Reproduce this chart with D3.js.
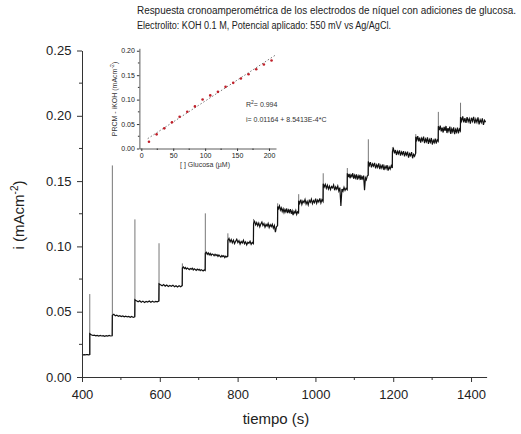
<!DOCTYPE html>
<html>
<head>
<meta charset="utf-8">
<script src="https://cdn.jsdelivr.net/npm/d3@7"></script>
<style>
  body { margin: 0; background: #fff; }
  svg { font-family: "Liberation Sans", Arial, sans-serif; }
  .axis path, .axis line { stroke: #333; }
  .axis text { fill: #222; }
</style>
</head>
<body>
<div id="content"></div>
<script>
// datos del cronoamperograma
var baseline = [0.0172, 0.0170, 0.0171, 0.0170, 0.0172, 0.0171, 0.0170, 0.0172];
var stepTimes = [420, 478, 536, 598, 658, 717, 775, 841, 903, 957, 1020, 1082, 1136, 1198, 1258, 1316, 1373];
var endTime = 1438;
var spikes = [0.0635, 0.162, 0.1207, 0.1024, 0.0870, 0.1253, 0.1100, 0.1210, 0.1330, 0.1400, 0.1560, 0.1600, 0.1820, 0.1760, 0.1860, 0.2030, 0.2100];
var plateaus = [
  [0.0332,0.0324,0.0318,0.0321,0.0315,0.0319,0.0313,0.0318,0.0314,0.0317,0.0312,0.0316,0.0313,0.0318,0.0314,0.0316],
  [0.0472,0.0480,0.0468,0.0474,0.0465,0.0470,0.0463,0.0468,0.0461,0.0466,0.0460,0.0464,0.0457,0.0463,0.0456,0.0461],
  [0.0592,0.0583,0.0576,0.0584,0.0573,0.0581,0.0571,0.0579,0.0574,0.0582,0.0572,0.0580,0.0573,0.0579,0.0575,0.0581],
  [0.0714,0.0706,0.0699,0.0708,0.0696,0.0704,0.0693,0.0701,0.0695,0.0703,0.0691,0.0699,0.0689,0.0698,0.0691,0.0700],
  [0.0835,0.0842,0.0830,0.0838,0.0826,0.0834,0.0829,0.0822,0.0831,0.0825,0.0833,0.0820,0.0828,0.0823,0.0817,0.0826,0.0819,0.0824,0.0815,0.0822,0.0818,0.0812,0.0820,0.0816],
  [0.0948,0.0955,0.0940,0.0950,0.0936,0.0946,0.0932,0.0942,0.0938,0.0928,0.0940,0.0930,0.0937,0.0924,0.0934,0.0926,0.0918,0.0930,0.0921,0.0928,0.0915,0.0926,0.0919,0.0924],
  [0.1045,0.1060,0.1035,0.1052,0.1028,0.1048,0.1022,0.1040,0.1055,0.1030,0.1044,0.1018,0.1038,0.1026,0.1047,0.1020,0.1035,0.1012,0.1032,0.1024,0.1040,0.1016,0.1030,0.1022],
  [0.1175,0.1192,0.1165,0.1182,0.1158,0.1178,0.1150,0.1172,0.1186,0.1160,0.1175,0.1148,0.1168,0.1155,0.1176,0.1145,0.1166,0.1152,0.1170,0.1140,0.1160,0.1110,0.1150,0.1158],
  [0.1305,0.1290,0.1310,0.1278,0.1295,0.1268,0.1288,0.1260,0.1282,0.1265,0.1290,0.1255,0.1278,0.1262,0.1285,0.1250,0.1272,0.1240,0.1268,0.1255,0.1275,0.1245,0.1265,0.1258],
  [0.1350,0.1330,0.1358,0.1322,0.1348,0.1335,0.1360,0.1325,0.1345,0.1318,0.1352,0.1338,0.1362,0.1328,0.1350,0.1335,0.1365,0.1330,0.1355,0.1340,0.1368,0.1332,0.1358,0.1345],
  [0.1480,0.1455,0.1475,0.1445,0.1468,0.1440,0.1462,0.1435,0.1458,0.1448,0.1470,0.1430,0.1455,0.1438,0.1462,0.1425,0.1450,0.1310,0.1440,0.1422,0.1452,0.1428,0.1445,0.1435],
  [0.1560,0.1530,0.1555,0.1522,0.1548,0.1535,0.1560,0.1518,0.1545,0.1525,0.1552,0.1512,0.1540,0.1520,0.1548,0.1510,0.1535,0.1518,0.1542,0.1430,0.1525,0.1510,0.1538,0.1545],
  [0.1650,0.1620,0.1645,0.1605,0.1632,0.1615,0.1640,0.1598,0.1625,0.1605,0.1635,0.1592,0.1620,0.1600,0.1628,0.1585,0.1615,0.1595,0.1622,0.1580,0.1610,0.1592,0.1618,0.1600],
  [0.1725,0.1748,0.1712,0.1738,0.1700,0.1728,0.1710,0.1735,0.1695,0.1722,0.1705,0.1730,0.1690,0.1718,0.1700,0.1726,0.1680,0.1710,0.1695,0.1722,0.1675,0.1705,0.1690,0.1712],
  [0.1840,0.1815,0.1845,0.1805,0.1832,0.1795,0.1828,0.1810,0.1840,0.1790,0.1822,0.1802,0.1835,0.1785,0.1818,0.1798,0.1830,0.1780,0.1812,0.1795,0.1825,0.1788,0.1815,0.1805],
  [0.1920,0.1890,0.1925,0.1880,0.1910,0.1872,0.1915,0.1885,0.1922,0.1868,0.1905,0.1882,0.1918,0.1862,0.1900,0.1878,0.1912,0.1860,0.1895,0.1875,0.1910,0.1865,0.1898,0.1885],
  [0.1990,0.1960,0.1995,0.1950,0.1982,0.1945,0.1990,0.1955,0.1978,0.1940,0.1985,0.1958,0.1992,0.1942,0.1975,0.1950,0.1988,0.1935,0.1970,0.1948,0.1980,0.1930,0.1965,0.1952]
];

// datos de la curva de calibración
var glucosa = [12, 24, 36, 48, 60, 72, 84, 96, 108, 120, 132, 144, 156, 168, 180, 192, 204];
var deltaI = [0.0139, 0.0290, 0.0412, 0.0535, 0.0649, 0.0751, 0.0861, 0.1004, 0.1086, 0.1159, 0.1261, 0.1343, 0.1433, 0.1520, 0.1622, 0.1718, 0.1800];
var fitIntercept = 0.01164;
var fitSlope = 8.5413E-4;

var xTicks = [400, 600, 800, 1000, 1200, 1400];
var yTicks = [0.00, 0.05, 0.10, 0.15, 0.20, 0.25];

// dimensiones
var width = 521;
var height = 434;

var svg = d3.select("#content")
  .append("svg")
  .attr("width", width)
  .attr("height", height);

// titulo
var title = svg.append("g").attr("font-size", "10px").attr("fill", "#222");
title.append("text").attr("x", 137).attr("y", 14)
  .attr("textLength", 379).attr("lengthAdjust", "spacingAndGlyphs")
  .text("Respuesta cronoamperométrica de los electrodos de níquel con adiciones de glucosa.");
title.append("text").attr("x", 137).attr("y", 29)
  .attr("textLength", 254).attr("lengthAdjust", "spacingAndGlyphs")
  .text("Electrolito: KOH 0.1 M, Potencial aplicado: 550 mV vs Ag/AgCl.");

var x = d3.scaleLinear().domain([400, 1440]).range([82, 486.6]);
var y = d3.scaleLinear().domain([0, 0.25]).range([377, 50.5]);

// construir la traza
var trace = [];
var t0 = 400;
baseline.forEach(function(v, i) {
  trace.push([t0 + i * (stepTimes[0] - t0) / (baseline.length - 1), v]);
});
var spikeLines = [];
stepTimes.forEach(function(ts, k) {
  var te = k + 1 < stepTimes.length ? stepTimes[k + 1] : endTime;
  var p = plateaus[k];
  var prev = trace[trace.length - 1][1];
  spikeLines.push({t: ts, lo: Math.min(prev, p[0]), hi: spikes[k]});
  p.forEach(function(v, i) {
    trace.push([ts + i * (te - ts - 0.5) / (p.length - 1), v]);
  });
});

svg.append("g").selectAll("line")
  .data(spikeLines)
  .enter().append("line")
  .attr("x1", function(d) { return x(d.t); }).attr("x2", function(d) { return x(d.t); })
  .attr("y1", function(d) { return y(d.lo); }).attr("y2", function(d) { return y(d.hi); })
  .attr("stroke", "#777").attr("stroke-width", 1);

svg.append("path")
  .datum(trace)
  .attr("fill", "none")
  .attr("stroke", "#111")
  .attr("stroke-width", 1.2)
  .attr("d", d3.line().x(function(d) { return x(d[0]); }).y(function(d) { return y(d[1]); }));

// ejes principales
var xAxis = svg.append("g").attr("class", "axis")
  .attr("transform", "translate(0," + y(0) + ")")
  .call(d3.axisBottom(x).tickValues(xTicks).tickSize(5).tickSizeOuter(0).tickFormat(d3.format("d")));
xAxis.selectAll("text").attr("font-size", "13px").attr("dy", "1.05em");
xAxis.selectAll(".minor").data([500, 700, 900, 1100, 1300]).enter()
  .append("line").attr("class", "minor")
  .attr("x1", function(d) { return x(d); }).attr("x2", function(d) { return x(d); })
  .attr("y1", 0).attr("y2", 3).attr("stroke", "#333");

var yAxis = svg.append("g").attr("class", "axis")
  .attr("transform", "translate(" + x(400) + ",0)")
  .call(d3.axisLeft(y).tickValues(yTicks).tickSize(5).tickSizeOuter(0).tickFormat(d3.format(".2f")));
yAxis.selectAll("text").attr("font-size", "13px").attr("dx", "-0.2em");
yAxis.selectAll(".minor").data([0.025, 0.075, 0.125, 0.175, 0.225]).enter()
  .append("line").attr("class", "minor")
  .attr("y1", function(d) { return y(d); }).attr("y2", function(d) { return y(d); })
  .attr("x1", 0).attr("x2", -3).attr("stroke", "#333");
svg.selectAll(".axis .domain").attr("stroke-width", 1);

svg.append("text")
  .attr("x", 276).attr("y", 424)
  .attr("text-anchor", "middle").attr("font-size", "15px").attr("fill", "#222")
  .text("tiempo (s)");

var yl = svg.append("text")
  .attr("transform", "translate(24,215) rotate(-90)")
  .attr("text-anchor", "middle").attr("font-size", "15px").attr("fill", "#222");
yl.append("tspan").text("i (mAcm");
yl.append("tspan").attr("font-size", "10px").attr("dy", -6).text("-2");
yl.append("tspan").attr("dy", 6).text(")");

// inserto: curva de calibración
var xi = d3.scaleLinear().domain([-3, 211]).range([139.4, 276]);
var yi = d3.scaleLinear().domain([0, 0.205]).range([148.5, 48.3]);

var inset = svg.append("g");

inset.append("line")
  .attr("x1", xi(10)).attr("x2", xi(210))
  .attr("y1", yi(fitIntercept + fitSlope * 10)).attr("y2", yi(fitIntercept + fitSlope * 210))
  .attr("stroke", "#555").attr("stroke-width", 0.8).attr("stroke-dasharray", "1.5,2");

inset.selectAll("circle")
  .data(glucosa)
  .enter().append("circle")
  .attr("cx", function(d) { return xi(d); })
  .attr("cy", function(d, i) { return yi(deltaI[i]); })
  .attr("r", 1.3)
  .attr("fill", "#c0202a");

var xiAxis = inset.append("g").attr("class", "axis")
  .attr("transform", "translate(0," + yi(0) + ")")
  .call(d3.axisBottom(xi).tickValues([0, 50, 100, 150, 200]).tickSize(2.5).tickSizeOuter(0).tickPadding(2));
xiAxis.selectAll("text").attr("font-size", "7px");
xiAxis.selectAll(".minor").data([25, 75, 125, 175]).enter()
  .append("line").attr("class", "minor")
  .attr("x1", function(d) { return xi(d); }).attr("x2", function(d) { return xi(d); })
  .attr("y1", 0).attr("y2", 1.5).attr("stroke", "#333");

var yiAxis = inset.append("g").attr("class", "axis")
  .attr("transform", "translate(" + xi(-3) + ",0)")
  .call(d3.axisLeft(yi).tickValues([0, 0.05, 0.10, 0.15, 0.20]).tickSize(2.5).tickSizeOuter(0).tickPadding(2).tickFormat(d3.format(".2f")));
yiAxis.selectAll("text").attr("font-size", "7px");
yiAxis.selectAll(".minor").data([0.025, 0.075, 0.125, 0.175]).enter()
  .append("line").attr("class", "minor")
  .attr("y1", function(d) { return yi(d); }).attr("y2", function(d) { return yi(d); })
  .attr("x1", 0).attr("x2", -1.5).attr("stroke", "#333");
inset.selectAll(".domain").attr("stroke-width", 0.8);

inset.append("text")
  .attr("x", 205).attr("y", 167)
  .attr("text-anchor", "middle").attr("font-size", "7px").attr("fill", "#333")
  .text("[ ] Glucosa (µM)");

var iyl = inset.append("text")
  .attr("transform", "translate(117,99) rotate(-90)")
  .attr("text-anchor", "middle").attr("font-size", "7px").attr("fill", "#333");
iyl.append("tspan").text("PRCM - iKOH (mAcm");
iyl.append("tspan").attr("font-size", "5px").attr("dy", -3).text("-2");
iyl.append("tspan").attr("dy", 3).text(")");

var r2 = inset.append("text").attr("x", 246).attr("y", 107).attr("font-size", "7px").attr("fill", "#333");
r2.append("tspan").text("R");
r2.append("tspan").attr("font-size", "5px").attr("dy", -3).text("2");
r2.append("tspan").attr("dy", 3).text("= 0.994");

inset.append("text").attr("x", 246).attr("y", 122).attr("font-size", "7px").attr("fill", "#333")
  .text("i= 0.01164 + 8.5413E-4*C");
</script>
</body>
</html>
